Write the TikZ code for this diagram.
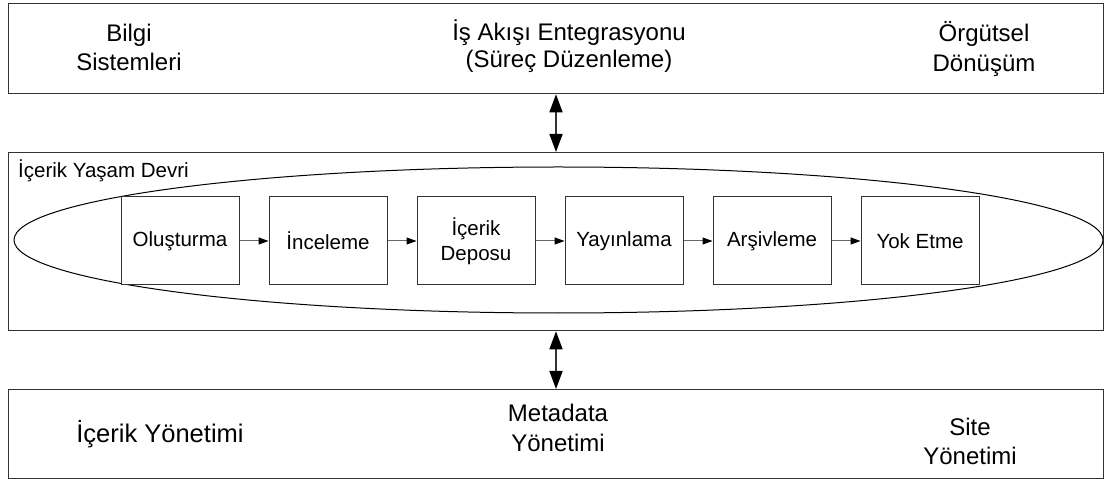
\documentclass[tikz,border=0pt]{standalone}
\usepackage{fontspec}
\setmainfont{Liberation Sans}
\usetikzlibrary{arrows.meta,shapes.geometric}

\definecolor{framegray}{HTML}{333333}
\definecolor{flowgray}{HTML}{666666}

% centred lines whose reference point is the first baseline
\newcommand{\stackedlines}[1]{\begin{tabular}[t]{@{}c@{}}#1\end{tabular}}

\begin{document}
\begin{tikzpicture}[x=1bp,y=-1bp,
  layerbox/.style={draw=framegray, line width=1.3bp, inner sep=0pt, anchor=north west},
  stagebox/.style={draw=framegray, fill=white, line width=1bp, minimum width=118bp,
    minimum height=88bp, inner sep=0pt, align=center,
    font=\fontsize{20.5bp}{25bp}\selectfont},
  bigtext/.style={inner sep=0pt, anchor=base},
  stageflow/.style={draw=flowgray, line width=1bp,
    -{Triangle[length=10bp,width=7bp,color=black]}},
  layerlink/.style={draw=framegray, line width=1.6bp,
    {Triangle[length=18bp,width=13bp,color=black]}-{Triangle[length=18bp,width=13bp,color=black]}}
]
\useasboundingbox (0,0) rectangle (1107,479);

% the three layers
\node[layerbox, minimum width=1095bp, minimum height=90bp]  (topbox) at (8,3) {};
\node[layerbox, minimum width=1095bp, minimum height=178bp] (midbox) at (8,152) {};
\node[layerbox, minimum width=1095bp, minimum height=89bp]  (botbox) at (8,389) {};

% top layer texts
\node[bigtext, font=\fontsize{24bp}{29bp}\selectfont] (bilgi) at (129,42)
  {\stackedlines{Bilgi\\Sistemleri}};
\node[bigtext, font=\fontsize{24bp}{27bp}\selectfont] (isakisi) at (569,41)
  {\stackedlines{İş Akışı Entegrasyonu\\(Süreç Düzenleme)}};
\node[bigtext, font=\fontsize{24bp}{30bp}\selectfont] (orgutsel) at (984,42)
  {\stackedlines{Örgütsel\\Dönüşüm}};

% lifecycle layer
\node[anchor=base west, inner sep=0pt, font=\fontsize{20.5bp}{25bp}\selectfont]
  (lifecycle) at (18,178) {İçerik Yaşam Devri};
\node[draw=black, line width=1bp, ellipse, minimum width=1089bp, minimum height=146bp,
  inner sep=0pt] (cycle) at (558.5,240) {};

\node[stagebox] (s1) at (180,241) {Oluşturma};
\node[stagebox] (s2) at (328,241) {İnceleme};
\node[stagebox] (s3) at (476,241) {İçerik\\Deposu};
\node[stagebox] (s4) at (624,241) {Yayınlama};
\node[stagebox] (s5) at (772,241) {Arşivleme};
\node[stagebox] (s6) at (920,241) {Yok Etme};

\draw[stageflow] (s1) -- (s2);
\draw[stageflow] (s2) -- (s3);
\draw[stageflow] (s3) -- (s4);
\draw[stageflow] (s4) -- (s5);
\draw[stageflow] (s5) -- (s6);

% bottom layer texts
\node[bigtext, font=\fontsize{25.5bp}{30bp}\selectfont] (icerikyon) at (160,442)
  {İçerik Yönetimi};
\node[bigtext, font=\fontsize{24bp}{30bp}\selectfont] (metadata) at (558,421)
  {\stackedlines{Metadata\\Yönetimi}};
\node[bigtext, font=\fontsize{24bp}{29bp}\selectfont] (site) at (970,435)
  {\stackedlines{Site\\Yönetimi}};

% links between the layers
\coordinate (axis) at (556,0);
\draw[layerlink] (topbox.south -| axis) -- (midbox.north -| axis);
\draw[layerlink] (midbox.south -| axis) -- (botbox.north -| axis);
\end{tikzpicture}
\end{document}
